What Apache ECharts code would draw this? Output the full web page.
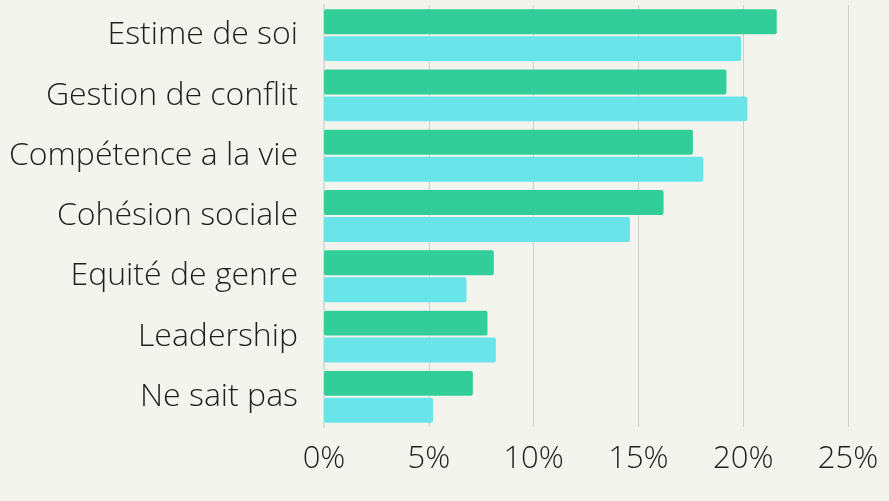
<!DOCTYPE html>
<html>
<head>
<meta charset="utf-8">
<script src="https://cdn.jsdelivr.net/npm/echarts@6/dist/echarts.min.js"></script>
<style>
  html, body { margin: 0; padding: 0; background: #f4f4ef; }
  #chart { width: 889px; height: 501px; }
</style>
</head>
<body>
<div id="chart"></div>
<script>
const categories = ['Estime de soi', 'Gestion de conflit', 'Compétence a la vie', 'Cohésion sociale', 'Equité de genre', 'Leadership', 'Ne sait pas']
const serieA = [21.6, 19.2, 17.6, 16.2, 8.1, 7.8, 7.1]
const serieB = [19.9, 20.2, 18.1, 14.6, 6.8, 8.2, 5.2]
const tickLabels = ['0%', '5%', '10%', '15%', '20%', '25%']

const myChart = echarts.init(document.getElementById('chart'))

const option = {
  backgroundColor: '#f4f4ef',
  textStyle: { fontFamily: 'Open Sans' },
  grid: {
    left: 324,
    right: 41,
    top: 5,
    bottom: 74
  },
  xAxis: {
    type: 'value',
    min: 0,
    max: 25,
    interval: 5,
    axisLine: { show: false },
    axisTick: { show: false },
    splitLine: { lineStyle: { color: '#cfcfcb', width: 1 } },
    axisLabel: {
      color: '#1e1e1e',
      fontSize: 31,
      fontWeight: 300,
      margin: 17,
      formatter: (v) => tickLabels[v / 5]
    }
  },
  yAxis: {
    type: 'category',
    inverse: true,
    data: categories,
    axisLine: { lineStyle: { color: '#dcdcd6', width: 2 } },
    axisTick: { show: false },
    axisLabel: {
      color: '#1e1e1e',
      fontSize: 32,
      fontWeight: 300,
      margin: 26,
      padding: [4, 0, 0, 0]
    }
  },
  series: [
    {
      name: 'A',
      type: 'bar',
      data: serieA,
      barGap: '8%',
      barCategoryGap: '14%',
      itemStyle: { color: '#31ce99', borderRadius: 2 }
    },
    {
      name: 'B',
      type: 'bar',
      data: serieB,
      itemStyle: { color: '#69e5e9', borderRadius: 2 }
    }
  ]
}

myChart.setOption(option)
</script>
</body>
</html>
